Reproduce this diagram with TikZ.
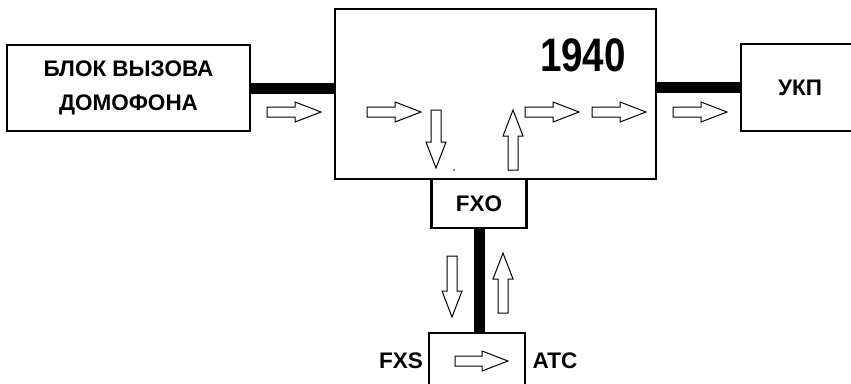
\documentclass[tikz,border=0pt]{standalone}
\usepackage{fontspec}
\setmainfont{Liberation Sans}
\usetikzlibrary{positioning}
\begin{document}
\begin{tikzpicture}[x=1pt, y=-1pt,
    box/.style={draw, line width=2.5pt, inner sep=0pt, font=\bfseries\fontsize{22.5}{34}\selectfont, align=center},
    lbl/.style={font=\bfseries\fontsize{22.5}{26}\selectfont},
    wire/.style={line width=11pt},
    arrowline/.style={draw, line width=1pt, fill=white},
    pics/harrow/.style={code={\path[arrowline] (0,-5) -- (#1-26,-5) -- (#1-26,-10) -- (#1,0) -- (#1-26,10) -- (#1-26,5) -- (0,5) -- cycle;}}]
      \clip (0,0) rectangle (851,383);
      % blocks
      \node[box, minimum width=243pt, minimum height=86pt] (call) at (128.5,88) {БЛОК ВЫЗОВА\\ДОМОФОНА};
      \node[box, minimum width=321pt, minimum height=170pt] (main) at (495.5,94) {};
      \node[box, minimum width=118pt, minimum height=87pt] (ukp) at (800,87.5) {УКП};
      \node[box, minimum width=95pt, minimum height=49pt] (fxo) at (479,203.5) {FXO};
      \node[box, minimum width=96pt, minimum height=62pt] (atc) at (477,364) {};
      \node at (583,55) [font=\bfseries\fontsize{47}{47}\selectfont] (num) {\scalebox{0.82}[1]{1940}};
      \node at (401,361) [lbl] (fxs) {FXS};
      \node at (555,361) [lbl] (atclbl) {ATC};
      % lines
      \draw[wire] (call.east) -- (call.east -| main.west);
      \draw[wire] (main.east |- ukp.west) -- (ukp.west);
      \draw[wire] (fxo.south) -- (fxo.south |- atc.north);
      % signal arrows
      \pic at (267,112) {harrow=54};
      \pic at (367,112) {harrow=54};
      \pic[rotate=-90] at (436,110) {harrow=58};
      \pic[rotate=90] at (513,170) {harrow=60};
      \pic at (525,112) {harrow=54};
      \pic at (592,112) {harrow=54};
      \pic at (673,112) {harrow=54};
      \pic[rotate=-90] at (452,256) {harrow=61};
      \pic[rotate=90] at (503,313) {harrow=60};
      \pic at (455,361) {harrow=53};
      \fill (454,170) circle (0.8);
\end{tikzpicture}
\end{document}
